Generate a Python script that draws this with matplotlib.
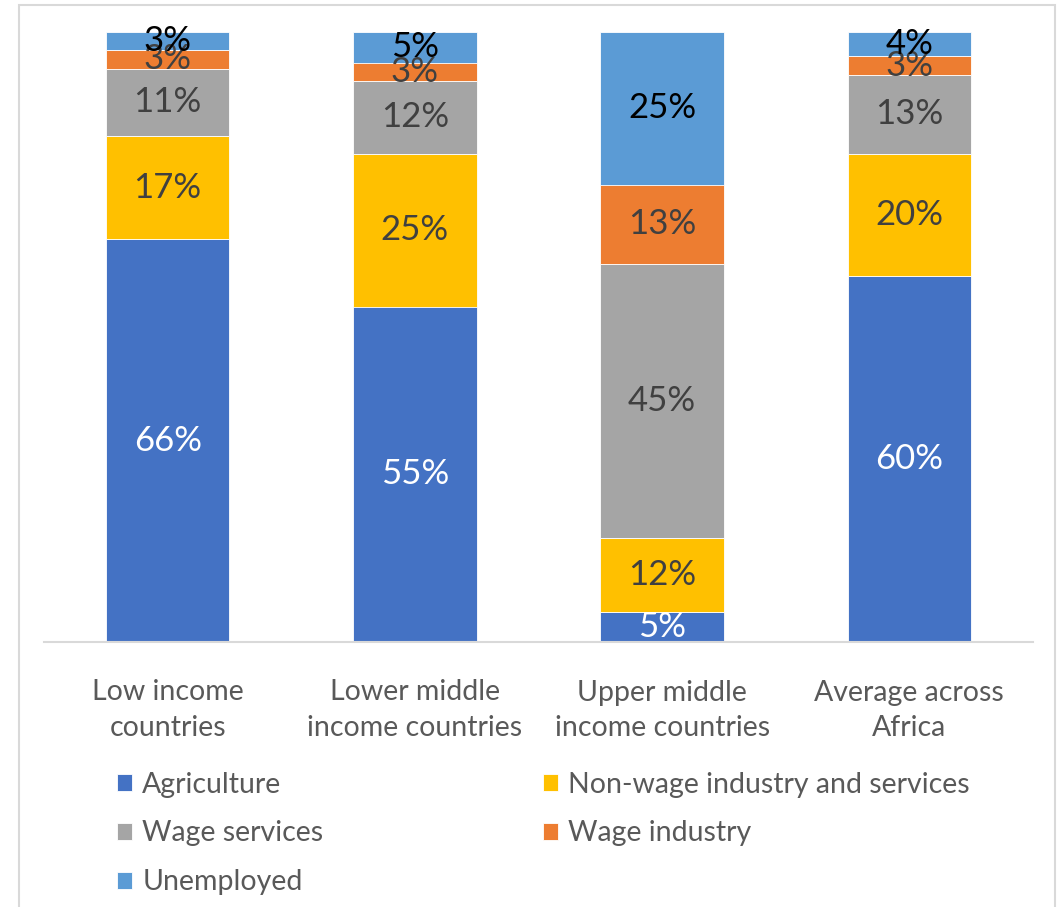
import numpy as np
import matplotlib.pyplot as plt
from matplotlib.patches import Rectangle

plt.rcParams['font.family'] = ['Lato', 'DejaVu Sans']

categories = ['Low income\ncountries', 'Lower middle\nincome countries',
              'Upper middle\nincome countries', 'Average across\nAfrica']
series = ['Agriculture', 'Non-wage industry and services', 'Wage services',
          'Wage industry', 'Unemployed']
agriculture = [66, 55, 5, 60]
non_wage = [17, 25, 12, 20]
wage_services = [11, 12, 45, 13]
wage_industry = [3, 3, 13, 3]
unemployed = [3, 5, 25, 4]

colors = ['#4472C4', '#FFC000', '#A5A5A5', '#ED7D31', '#5B9BD5']
label_colors = ['white', '#404040', '#404040', '#404040', 'black']

fig = plt.figure(figsize=(10.59, 9.07), dpi=100)
ax = fig.add_axes([44/1059, 1 - 642/907, (1033 - 44)/1059, (642 - 32)/907])

# outer chart frame
fig.patches.append(Rectangle((19/1059, -0.01), (1055 - 19)/1059, 1.01 - 5/907,
                             transform=fig.transFigure, fill=False,
                             edgecolor='#d9d9d9', linewidth=1.5))

x = np.arange(len(categories))
bottom = np.zeros(len(categories))
handles = []
for vals, name, col, lc in zip([agriculture, non_wage, wage_services, wage_industry, unemployed],
                               series, colors, label_colors):
    vals = np.array(vals, dtype=float)
    b = ax.bar(x, vals, 0.5, bottom=bottom, color=col, edgecolor='white',
               linewidth=0.6, label=name)
    handles.append(b)
    for xi, v, bt in zip(x, vals, bottom):
        ax.text(xi, bt + v / 2, '%d%%' % v, ha='center', va='center',
                fontsize=25, color=lc)
    bottom += vals

ax.set_xlim(-0.5, 3.5)
ax.set_ylim(0, 100)
ax.set_yticks([])
ax.set_xticks(x)
ax.set_xticklabels(categories, fontsize=20.5, color='#595959', linespacing=1.45)
ax.tick_params(axis='x', length=0, pad=27)
for s in ['top', 'right', 'left']:
    ax.spines[s].set_visible(False)
ax.spines['bottom'].set_color('#d9d9d9')
ax.spines['bottom'].set_linewidth(1.5)

# row-major order: matplotlib fills legend columns first
order = [0, 2, 4, 1, 3]
leg = fig.legend([handles[i] for i in order], [series[i] for i in order],
                 ncol=2, loc='upper left', bbox_to_anchor=(91/1059, 1 - 746/907),
                 frameon=False, fontsize=20.5, handlelength=0.55, handleheight=0.55,
                 handletextpad=0.35, columnspacing=7.7, labelspacing=0.8,
                 labelcolor='#595959')

fig.savefig('out.png', dpi=100)
